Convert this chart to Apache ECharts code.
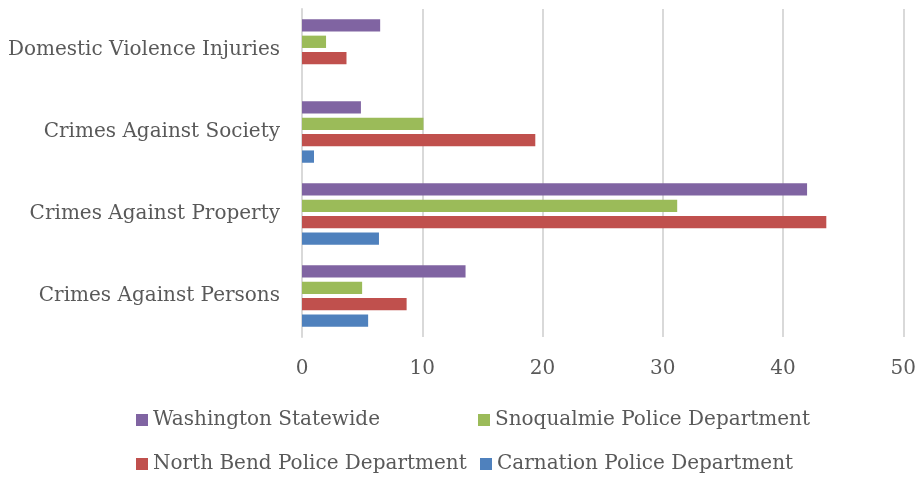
<!DOCTYPE html>
<html>
<head>
<meta charset="utf-8">
<script src="https://cdn.jsdelivr.net/npm/echarts@6/dist/echarts.min.js"></script>
<style>
html,body{margin:0;padding:0;background:#fff;}
#chart{width:919px;height:479px;}
</style>
</head>
<body>
<div id="chart"></div>
<script>
const categories = ['Crimes Against Persons', 'Crimes Against Property', 'Crimes Against Society', 'Domestic Violence Injuries'];
const carnation = [5.5, 6.4, 1.0, null];
const northBend = [8.7, 43.6, 19.4, 3.7];
const snoqualmie = [5.0, 31.2, 10.1, 2.0];
const washington = [13.6, 42.0, 4.9, 6.5];
const xTicks = [0, 10, 20, 30, 40, 50];

const FONT = 'DejaVu Serif';
const TXT = '#595959';
const FS = 20;

const chart = echarts.init(document.getElementById('chart'));
const mk = (name, data, color) => ({
  name, type: 'bar', data,
  itemStyle: { color },
  barGap: '33%', barCategoryGap: '25%'
});
const lg = (name, left, top) => ({
  data: [name], left, top, orient: 'horizontal',
  icon: 'rect', itemWidth: 12, itemHeight: 12,
  textStyle: { color: TXT, fontFamily: FONT, fontSize: FS, lineHeight: 20 }
});
chart.setOption({
  animation: false,
  textStyle: { fontFamily: FONT, color: TXT },
  grid: { left: 302, right: 11, top: 9, bottom: 142, containLabel: false },
  xAxis: {
    type: 'value', min: xTicks[0], max: xTicks[xTicks.length - 1], interval: 10,
    axisLine: { show: false }, axisTick: { show: false },
    splitLine: { lineStyle: { color: '#d9d9d9', width: 2 } },
    axisLabel: { color: TXT, fontFamily: FONT, fontSize: FS, margin: 22 }
  },
  yAxis: {
    type: 'category', data: categories,
    axisLine: { show: true, lineStyle: { color: '#d9d9d9', width: 2 } },
    axisTick: { show: false },
    axisLabel: { color: TXT, fontFamily: FONT, fontSize: FS, margin: 22 }
  },
  legend: [
    lg('Washington Statewide', 131, 405),
    lg('North Bend Police Department', 131, 449),
    lg('Snoqualmie Police Department', 473, 405),
    lg('Carnation Police Department', 475, 449)
  ],
  series: [
    mk('Washington Statewide', washington, '#8064A2'),
    mk('Snoqualmie Police Department', snoqualmie, '#9BBB59'),
    mk('North Bend Police Department', northBend, '#C0504D'),
    mk('Carnation Police Department', carnation, '#4F81BD')
  ]
});
</script>
</body>
</html>
